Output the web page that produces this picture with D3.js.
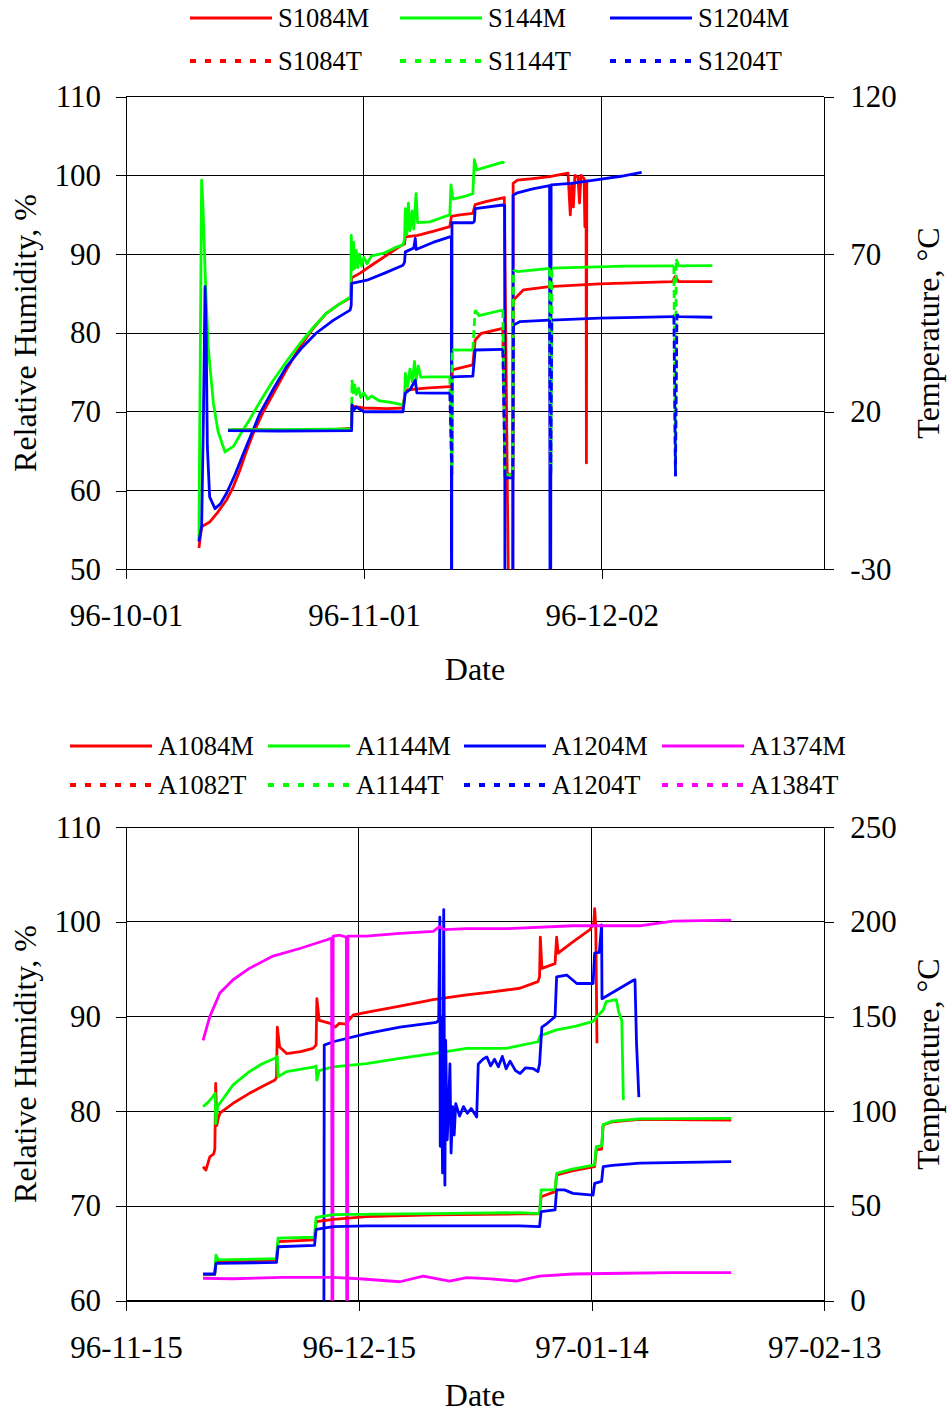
<!DOCTYPE html>
<html><head><meta charset="utf-8">
<script src="https://cdn.jsdelivr.net/npm/d3@7"></script>
<style>body{margin:0;background:#fff}svg{display:block}</style>
</head><body><svg id="c" width="949" height="1414"></svg>
<script>
// ---------------- DATA (day offset from panel start date, value) ----------------
// Top panel: start 1996-10-01
const topStart = "1996-10-01", topEnd = "1996-12-31";
const topXTicks = ["1996-10-01", "1996-11-01", "1996-12-02"];
const topRHTicks = [50, 60, 70, 80, 90, 100, 110];
const topTempTicks = [-30, 20, 70, 120];
const topNamesM = ["S1084M", "S144M", "S1204M"];
const topNamesT = ["S1084T", "S1144T", "S1204T"];

const s1084M = [[9.5,52.7],[9.86,55.4],[10.9,56.0],[12.0,57.3],[13.1,58.8],[14.0,60.5],[14.85,62.6],[15.7,65.0],[16.6,67.3],[17.9,70.0],[19.2,72.3],[21.0,75.5],[22.7,78.3],[24.4,80.6],[26.1,82.5],[27.7,83.6],[29.3,84.5],
  [29.4,87.0],[30.5,87.6],[32,88.6],[34,89.9],[35.7,91.0],[36.3,91.3],[36.4,92.2],[38,92.4],[40,92.9],[42.2,93.5],[42.4,94.8],[43.5,95.0],[45.2,95.2],[45.5,96.3],[47,96.7],[49.3,97.2],[50.35,0],[50.45,99.0],
  [51,99.4],[53,99.6],[55.2,99.85],[57.6,100.3],[57.9,95.0],[58.1,99.0],[58.3,96.0],[58.5,100.0],[58.9,99.8],[59.1,96.5],[59.3,100],[59.7,99.6],[59.8,93.5],[59.95,99],[60.0,63.5],[60.05,99.5]];
const s144M = [[9.5,53.7],[9.7,80],[9.85,99.4],[10.0,97],[10.3,88],[10.7,78.3],[11.4,71.0],[12.0,67.5],[12.9,64.9],[14.0,65.6],[15.0,67.3],[16.1,69.0],[17.6,71.5],[19.2,74.0],[21.0,76.5],[22.7,78.7],[24.4,80.7],[26.1,82.5],[27.7,83.6],[29.3,84.6],
  [29.35,92.4],[29.5,88.0],[29.65,91.5],[29.8,88.2],[30.0,90.5],[30.2,88.3],[30.4,90.0],[30.7,88.5],[31.0,89.6],[31.4,88.8],[32,89.8],[33.5,90.1],[35,90.8],[36.1,91.2],[36.3,92.0],[36.4,95.8],[36.6,92.5],[36.8,96.5],[37.0,93.0],[37.3,95.5],[37.5,93.2],[37.8,97.7],[38.0,94.0],[39.6,94.1],[41,94.6],[42.2,95.0],[42.35,98.8],[42.6,97.0],[44,97.3],[45.2,97.7],[45.4,102.0],[45.7,100.7],[47,101.1],[49.1,101.7],[49.25,101.5]];
const s1204M = [[9.5,53.5],[9.86,55.5],[10.1,70],[10.3,85.9],[10.45,80],[10.6,65.6],[10.9,59.2],[11.6,57.7],[12.3,58.3],[13.1,59.65],[14.2,62.0],[15.3,64.7],[16.4,67.3],[17.45,69.8],[19.2,72.9],[20.9,75.7],[22.8,78.0],[24.8,80.0],[27,81.6],[29.2,82.9],[29.35,83.5],
  [29.4,86.3],[31.4,86.7],[33.7,87.6],[36.1,88.6],[36.3,89.0],[36.4,90.3],[37.5,90.8],[37.7,92.0],[37.8,90.6],[40,91.5],[42.2,92.2],[42.4,92.2],[42.42,0],[42.48,94.0],[45.2,94.0],[45.4,94.2],[45.5,95.8],[49.1,96.25],[49.35,96.2],[49.4,0],[50.4,0],[50.45,97.5],
  [51,97.8],[53,98.3],[55.2,98.7],[55.3,0],[55.4,98.8],[58,99.0],[61.7,99.5],[64.5,99.9],[67.2,100.4]];
const s1084T = [[13.3,14.2],[16,14.4],[20,14.2],[23,14.0],[26,14.1],[29.4,14.8],[29.45,21.8],[31,21.2],[34,21.0],[36.1,21.2],[36.4,26.9],[39,27.5],[42.2,28.0],[42.42,28],[42.45,3.7],[42.5,33.3],[45.2,34.85],[45.5,42.8],[46.3,44.9],[49.1,46.5],[49.4,0.5],[50.4,0],[50.5,55.5],[51.8,58.7],[55.2,59.7],[61.7,60.6],[71.2,61.3],[71.6,63],[72,61.3],[76.4,61.3]];
const s1144T = [[13.3,14.3],[20,14.3],[29.4,14.6],[29.45,30.1],[29.6,26],[29.8,28.5],[30.0,25.5],[30.3,27.5],[30.6,24.5],[31,26],[31.5,24],[32,25],[33,23.5],[34.5,23],[36.1,22.2],[36.3,24],[36.4,32.2],[36.7,28],[37.0,33.5],[37.3,29.5],[37.6,36],[37.8,30],[38.1,34.5],[38.4,31],[40,31.1],[42.2,31.1],[42.45,2],[42.5,39.6],[45.2,39.6],[45.5,52.3],[46,50.5],[49.1,52.3],[49.4,0],[50.4,0],[50.5,65],[51,64.5],[55.2,65.5],[55.35,1.5],[55.5,65.6],[65,66.2],[71.4,66.3],[71.6,0],[71.7,68.5],[72,66.3],[76.4,66.4]];
const s1204T = [[13.3,14.0],[20,13.9],[29.4,14.0],[29.45,22.2],[29.7,20.5],[30,21.5],[31,20],[34,20],[36.1,20],[36.4,25.9],[37,27],[37.7,30],[37.9,26],[40,25.9],[42.2,25.9],[42.45,0],[42.5,31.1],[45.2,31.3],[45.5,39.6],[49.1,39.8],[49.4,-1],[50.4,-1],[50.5,47.5],[51.3,48.6],[55.2,49.1],[55.35,0],[55.5,49.1],[61.7,49.7],[71.4,50.2],[71.6,-0.5],[71.8,51],[72,50.2],[76.4,50]];

// Bottom panel: start 1996-11-15
const botStart = "1996-11-15", botEnd = "1997-02-13";
const botXTicks = ["1996-11-15", "1996-12-15", "1997-01-14", "1997-02-13"];
const botRHTicks = [60, 70, 80, 90, 100, 110];
const botTempTicks = [0, 50, 100, 150, 200, 250];
const botNamesM = ["A1084M", "A1144M", "A1204M", "A1374M"];
const botNamesT = ["A1082T", "A1144T", "A1204T", "A1384T"];

const a1084M = [[9.93,74.15],[10.3,73.8],[10.8,75.2],[11.3,75.5],[11.45,76],[11.56,82.95],[11.7,78.5],[11.9,79.3],[12.1,79.8],[13.8,80.85],[15.9,81.9],[17.5,82.6],[19.2,83.3],[19.4,83.6],[19.5,88.9],[19.8,86.8],[20.7,86.1],[22.5,86.3],[24.1,86.65],[24.5,87],[24.6,91.9],[24.9,89.6],[26.3,89.3],[27,88.9],[27.5,89.3],[28.3,89.2],[29.3,90.2],[32,90.6],[35.3,91.1],[39.6,91.8],[43.9,92.3],[47,92.6],[50.75,93],[53.1,93.7],[53.3,94.2],[53.4,98.4],[53.6,95.1],[55.3,95.6],[55.5,98.4],[55.7,96.7],[57.6,97.9],[59.8,99.2],[60.3,99.9],[60.4,101.4],[60.55,99.5],[60.7,87.2]];
const a1144M = [[9.93,80.5],[10.5,80.9],[11.2,81.55],[11.5,81.9],[11.56,78.7],[11.8,80.5],[12.1,80.85],[13.8,82.8],[15.9,84.2],[17.5,85.0],[19.2,85.6],[19.5,85.8],[19.6,83.65],[20.7,84.2],[24.3,84.7],[24.5,84.8],[24.6,83.3],[24.9,84.3],[26.7,84.7],[31,85.05],[35.3,85.6],[39.6,86.1],[43.9,86.65],[49,86.65],[53.1,87.35],[53.4,88.0],[55.5,88.6],[58,89.0],[60.2,89.5],[60.5,89.8],[61.5,90.7],[61.9,91.6],[63.2,91.8],[63.5,90.5],[63.9,89.6],[64.1,81.2]];
const a1204M = [[25.5,55],[25.55,87],[26.7,87.35],[31,88.2],[35.3,88.9],[40,89.4],[40.3,89.6],[40.45,100.5],[40.5,76.3],[40.6,90],[40.8,73.5],[40.95,101.3],[41.1,72.2],[41.2,87.5],[41.4,77],[41.6,80.85],[41.75,85],[41.9,75.6],[42.1,80.5],[42.3,77.5],[42.5,80.8],[43,79.5],[43.5,80.5],[44,79.8],[44.5,80.3],[45.2,79.4],[45.4,85],[46,85.5],[46.5,85.75],[47,84.8],[47.5,85.5],[48,84.7],[48.5,85.8],[49,84.5],[49.5,85.3],[50.2,84.3],[50.8,84],[51.5,84.6],[52.5,84.5],[53.1,84.2],[53.3,85],[53.6,88.9],[54.3,89.3],[55.3,90],[55.5,94.2],[56.8,94.4],[58.1,93.5],[60.2,93.5],[60.4,96.7],[61,96.8],[61.3,99.7],[61.35,91.9],[65.4,93.85],[65.6,93.9],[65.8,87.2],[66.1,81.5]];
const a1374M = [[9.93,87.5],[10.8,90],[12.1,92.5],[13.8,93.9],[15.9,95.1],[18.95,96.4],[22.4,97.2],[25.8,98.1],[26.5,98.3],[26.55,55],[26.65,55],[26.7,98.5],[27.55,98.6],[28.4,98.4],[28.45,55],[28.55,55],[28.6,98.5],[31,98.5],[35.3,98.8],[39.6,99],[40.4,99.5],[41,99.2],[43.9,99.3],[49,99.3],[57.6,99.6],[61.9,99.6],[66.2,99.6],[70.5,100.1],[78,100.2]];
const a1082T = [[9.93,13.6],[11.43,13.8],[11.6,20.6],[19.4,21.5],[19.6,31.2],[24.3,32.1],[24.5,41.7],[26.7,43],[31,44.4],[39.6,45.3],[50.75,45.8],[53.3,45.8],[53.5,54.9],[55.3,57.6],[55.5,66.4],[57.5,68.5],[60.4,70.8],[60.6,79.6],[61.3,80],[61.5,92.8],[62.7,94.5],[66.2,95.8],[78,95.4]];
const a1144T = [[9.93,13.9],[11.43,14],[11.6,24.1],[11.9,21.6],[19.4,22.2],[19.6,33],[24.3,33.5],[24.5,44],[26.7,45.5],[39.6,46],[50.75,46.5],[53.3,46],[53.5,58.5],[55.3,58.5],[55.5,67.3],[57.5,69.5],[60.4,71.7],[60.6,81.3],[61.3,81.8],[61.5,93],[62.7,94.8],[66.2,96],[78,96.3]];
const a1204T = [[9.93,14.1],[11.43,14.1],[11.6,19.7],[19.4,20.2],[19.6,28.5],[24.3,29.2],[24.5,37.7],[26.7,39.1],[31,39.5],[50.75,39.5],[53.3,39.1],[53.5,47],[55.3,48],[55.5,58.5],[56.5,58.5],[57.6,56.7],[60.2,55.8],[60.4,62],[61.3,63],[61.5,70.8],[62.7,71.5],[66.2,72.6],[78,73.4]];
const a1384T = [[9.93,11.8],[13.8,11.6],[20.2,12.3],[26.7,12.3],[30.1,11.6],[35.3,10.0],[38.3,13.0],[41.7,10.4],[43.9,12.2],[47,11.5],[50.3,10.4],[53.3,13.0],[57.6,14.1],[64.1,14.5],[70.5,14.8],[78,14.8]];

// ---------------- DRAWING ----------------
const svg = d3.select("#c");
const FONT = "'Liberation Serif','Times New Roman',serif";
const parse = d3.utcParse("%Y-%m-%d");
const fmt = d3.utcFormat("%y-%m-%d");
const DAY = 864e5;
const LW = 2.8;

function drawPanel(p) {
  const left = 126, right = 824.3;
  const x = d3.scaleUtc().domain([parse(p.start), parse(p.end)]).range([left, right]);
  const yL = d3.scaleLinear().domain(p.leftDomain).range([p.bottom, p.top]);
  const yR = d3.scaleLinear().domain(p.rightDomain).range([p.bottom, p.top]);
  const base = parse(p.start).getTime();
  const t = d => new Date(base + d * DAY);
  const g = svg.append("g");

  const cid = "clip" + p.key;
  svg.append("clipPath").attr("id", cid).append("rect")
    .attr("x", left).attr("y", p.top).attr("width", right - left).attr("height", p.bottom - p.top);

  // horizontal grid
  g.append("g").selectAll("line").data(p.leftTicks).join("line")
    .attr("x1", left).attr("x2", right).attr("y1", d => yL(d)).attr("y2", d => yL(d))
    .attr("stroke", "#000").attr("stroke-width", 1).attr("shape-rendering", "crispEdges");
  // vertical grid
  g.append("g").selectAll("line").data(p.xTicks.map(parse)).join("line")
    .attr("x1", d => x(d)).attr("x2", d => x(d)).attr("y1", p.top).attr("y2", p.bottom)
    .attr("stroke", "#000").attr("stroke-width", 1).attr("shape-rendering", "crispEdges");
  // right border
  g.append("line").attr("x1", right).attr("x2", right).attr("y1", p.top).attr("y2", p.bottom)
    .attr("stroke", "#000").attr("shape-rendering", "crispEdges");

  // axes
  const styleAxis = sel => {
    sel.attr("font-family", FONT).attr("font-size", 31);
    sel.selectAll("path,line").attr("stroke", "#000").attr("stroke-width", 1).attr("shape-rendering", "crispEdges");
    sel.selectAll("text").attr("fill", "#000");
  };
  g.append("g").attr("transform", `translate(${left},0)`)
    .call(d3.axisLeft(yL).tickValues(p.leftTicks).tickSize(10).tickSizeOuter(0).tickPadding(15).tickFormat(d => String(d)))
    .call(styleAxis);
  g.append("g").attr("transform", `translate(${right},0)`)
    .call(d3.axisRight(yR).tickValues(p.rightTicks).tickSize(10).tickSizeOuter(0).tickPadding(16).tickFormat(d => String(d)))
    .call(styleAxis);
  g.append("g").attr("transform", `translate(0,${p.bottom})`)
    .call(d3.axisBottom(x).tickValues(p.xTicks.map(parse)).tickSize(10).tickSizeOuter(0).tickPadding(25).tickFormat(fmt))
    .call(styleAxis);

  // titles
  g.append("text").attr("x", 475).attr("y", p.bottom + p.dateOffset).attr("text-anchor", "middle")
    .attr("font-family", FONT).attr("font-size", 32).text("Date");
  const midY = (p.top + p.bottom) / 2;
  g.append("text").attr("transform", `translate(36,${midY}) rotate(-90)`).attr("text-anchor", "middle")
    .attr("font-family", FONT).attr("font-size", 32).text("Relative Humidity, %");
  g.append("text").attr("transform", `translate(939,${midY}) rotate(-90)`).attr("text-anchor", "middle")
    .attr("font-family", FONT).attr("font-size", 32).text("Temperature, \u00B0C");

  // data
  const plot = g.append("g").attr("clip-path", `url(#${cid})`);
  const line = d3.line();
  p.seriesM.forEach((s, i) => {
    plot.append("path").attr("d", line(s.map(d => [x(t(d[0])), yL(d[1])])))
      .attr("fill", "none").attr("stroke", p.colors[i]).attr("stroke-width", LW)
      .attr("stroke-linejoin", "round");
  });
  p.seriesT.forEach((s, i) => {
    const pts = s.map(d => [x(t(d[0])), yR(d[1])]);
    // long segments drawn dashed, dense short ones appear solid
    let run = [pts[0]];
    const flush = () => {
      if (run.length > 1) plot.append("path").attr("d", line(run)).attr("fill", "none")
        .attr("stroke", p.colors[i]).attr("stroke-width", LW).attr("stroke-linejoin", "round");
    };
    for (let k = 1; k < pts.length; k++) {
      const a = pts[k - 1], b = pts[k];
      const len = Math.abs(b[1] - a[1]);
      if (len > 30) {
        flush();
        plot.append("path").attr("d", line([a, b])).attr("fill", "none")
          .attr("stroke", p.colors[i]).attr("stroke-width", LW).attr("stroke-dasharray", "8,4");
        run = [b];
      } else run.push(b);
    }
    flush();
  });

  // legend
  const lg = svg.append("g").attr("font-family", FONT).attr("font-size", 26.5);
  [p.namesM, p.namesT].forEach((names, row) => {
    names.forEach((n, i) => {
      const lx = p.legendX[i], ly = p.legendY[row];
      lg.append("line").attr("x1", lx).attr("x2", lx + 82).attr("y1", ly).attr("y2", ly)
        .attr("stroke", p.colors[i]).attr("stroke-width", row ? 4 : 3)
        .attr("stroke-dasharray", row ? "6,9" : null);
      lg.append("text").attr("x", lx + 88).attr("y", ly + 9).text(n);
    });
  });
}

drawPanel({
  key: "top", start: topStart, end: topEnd, top: 96.7, bottom: 569.3, dateOffset: 111,
  leftDomain: [50, 110], rightDomain: [-30, 120],
  leftTicks: topRHTicks, rightTicks: topTempTicks, xTicks: topXTicks,
  seriesM: [s1084M, s144M, s1204M], seriesT: [s1084T, s1144T, s1204T],
  colors: ["#ff0000", "#00ff00", "#0000ff"],
  namesM: topNamesM, namesT: topNamesT,
  legendX: [190, 400, 610], legendY: [18, 61]
});
drawPanel({
  key: "bot", start: botStart, end: botEnd, top: 827.3, bottom: 1300.7, dateOffset: 105,
  leftDomain: [60, 110], rightDomain: [0, 250],
  leftTicks: botRHTicks, rightTicks: botTempTicks, xTicks: botXTicks,
  seriesM: [a1084M, a1144M, a1204M, a1374M], seriesT: [a1082T, a1144T, a1204T, a1384T],
  colors: ["#ff0000", "#00ff00", "#0000ff", "#ff00ff"],
  namesM: botNamesM, namesT: botNamesT,
  legendX: [70, 268, 464, 662], legendY: [746, 785]
});
</script></body></html>
